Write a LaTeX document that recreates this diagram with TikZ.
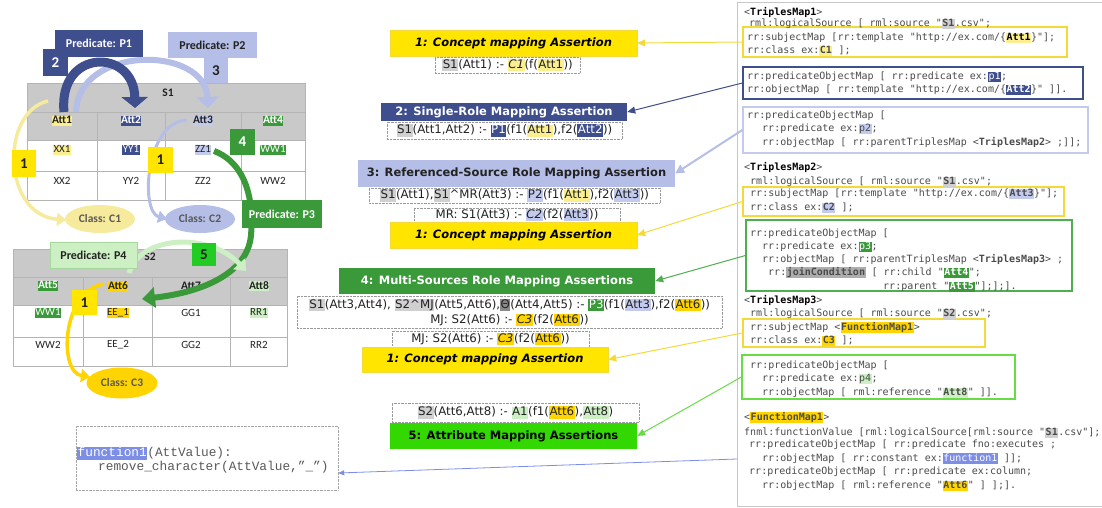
\documentclass[tikz,border=0pt]{standalone}
\usepackage{fontspec}
\setmainfont{Carlito}
\newfontfamily\fml{DejaVu Sans}
\newfontfamily\cf{DejaVu Sans Mono}
\newfontfamily\crr{Liberation Mono}
\usetikzlibrary{arrows.meta,fit,shapes.geometric}

\definecolor{dblue}{HTML}{3F4E8C}
\definecolor{lav}{HTML}{B4BEE6}
\definecolor{lavhl}{HTML}{C2CAEE}
\definecolor{lavline}{HTML}{C3CAEC}
\definecolor{ylw}{HTML}{FFE500}
\definecolor{ylwline}{HTML}{F2DA3A}
\definecolor{lylw}{HTML}{FAEE8E}
\definecolor{cone}{HTML}{F6EA9C}
\definecolor{gold}{HTML}{FFD400}
\definecolor{grn}{HTML}{3A9A3A}
\definecolor{grnline}{HTML}{4FAE4F}
\definecolor{bgrn}{HTML}{33D800}
\definecolor{five}{HTML}{22CC22}
\definecolor{lgrn}{HTML}{CDEFC4}
\definecolor{lgborder}{HTML}{A6D89E}
\definecolor{lgline}{HTML}{66DD44}
\definecolor{tgray}{HTML}{C9C9C9}
\definecolor{tline}{HTML}{B4B4B4}
\definecolor{hgray}{HTML}{D0D0D0}
\definecolor{dgray}{HTML}{8A8A8A}
\definecolor{fnblue}{HTML}{7C8EE6}
\definecolor{codegray}{HTML}{4A4A4A}
\definecolor{ink}{HTML}{222222}

\newcommand\hl[2]{{\setlength{\fboxsep}{0.5pt}\colorbox{#1}{\vphantom{Ay}#2}}}
\newcommand\hlw[2]{\hl{#1}{\color{white}#2}}

\tikzset{
  tab/.style={inner sep=0pt, font=\fontsize{11}{12}\selectfont, text=ink},
  tabb/.style={inner sep=0pt, font=\fontsize{11.5}{12}\selectfont\bfseries, text=ink},
  tag/.style={inner sep=0pt, font=\fontsize{12}{13}\selectfont\bfseries},
  num/.style={inner sep=0pt, font=\fontsize{15}{16}\selectfont\bfseries},
  cls/.style={ellipse, inner sep=0pt, font=\fontsize{11.5}{12}\selectfont\bfseries, text=black!65},
  title/.style={inner sep=0pt, font=\fml\fontsize{11.5}{14}\selectfont\bfseries},
  fbox/.style={inner sep=0pt, draw=black!40, densely dotted, font=\fml\fontsize{11.8}{13}\selectfont, text=ink},
  ftext/.style={inner sep=0pt, font=\fml\fontsize{11.8}{13}\selectfont, text=ink},
  cl/.style={anchor=base west, inner sep=0pt, font=\cf\fontsize{10}{12}\selectfont, text=codegray},
  cbox/.style={inner sep=0pt, line width=1.3pt},
  con/.style={line width=1pt, -{Triangle[width=7pt,length=8pt]}},
  tline/.style={draw=tline, line width=0.6pt},
  sz/.style 2 args={minimum width=#1pt, minimum height=#2pt},
}

\begin{document}
\begin{tikzpicture}[x=1pt,y=-1pt]
\path[use as bounding box] (0,0) rectangle (1102,508);

% ---------------- table S1 ----------------
\fill[tgray] (27,83) rectangle (305,140);
\draw[tline] (27,83) rectangle (305,200);
\draw[tline] (27,112) -- (305,112) (27,140) -- (305,140) (27,171) -- (305,171);
\draw[tline] (97,112) -- (97,200) (165,112) -- (165,200) (241,112) -- (241,200);
\node[tabb] (s1) at (168,93) {S1};
\node[tabb] (a1) at (62,121) {\hl{lylw}{Att1}};
\node[tabb] (a2) at (131,121) {\hl{dblue}{\color{white}Att2}};
\node[tabb] (a3) at (203,121) {\hl{lavhl}{Att3}};
\node[tabb] (a4) at (273,121) {\hl{grn}{\color{white}Att4}};
\node[tab] (x1) at (62,150) {\hl{lylw}{XX1}};
\node[tab] (y1) at (131,150) {\hl{dblue}{\color{white}YY1}};
\node[tab] (z1) at (203,150) {\hl{lavhl}{ZZ1}};
\node[tab] (w1) at (273,150) {\hl{grn}{\color{white}WW1}};
\node[tab] (x2) at (62,181) {XX2};
\node[tab] (y2) at (131,181) {YY2};
\node[tab] (z2) at (203,181) {ZZ2};
\node[tab] (w2) at (273,181) {WW2};

% ---------------- table S2 ----------------
\fill[tgray] (13,249) rectangle (287,305);
\draw[tline] (13,249) rectangle (287,366);
\draw[tline] (13,277) -- (287,277) (13,305) -- (287,305) (13,337) -- (287,337);
\draw[tline] (83,277) -- (83,366) (152,277) -- (152,366) (230,277) -- (230,366);
\node[tabb] (s2) at (150,257) {S2};
\node[tabb] (a5) at (48,286) {\hl{grn}{\color{white}Att5}};
\node[tabb] (a6) at (118,286) {\hl{gold}{Att6}};
\node[tabb] (a7) at (191,286) {Att7};
\node[tabb] (a8) at (259,286) {\hl{lgrn}{Att8}};
\node[tab] (v1) at (48,313) {\hl{grn}{\color{white}WW1}};
\node[tab] (e1) at (118,313) {\hl{gold}{EE\_1}};
\node[tab] (g1) at (191,313) {GG1};
\node[tab] (r1) at (259,313) {\hl{lgrn}{RR1}};
\node[tab] (v2) at (48,345) {WW2};
\node[tab] (e2) at (118,345) {EE\_2};
\node[tab] (g2) at (191,345) {GG2};
\node[tab] (r2) at (259,345) {RR2};

% ---------------- arcs over the tables ----------------
\draw[line width=3.5pt, cone, -{Triangle[width=13pt,length=9pt]}]
  (48,101) .. controls (0,112) and (2,215) .. (66,220);
\draw[line width=3pt, lav, -{Triangle[width=12pt,length=9pt]}]
  (187,120) .. controls (145,122) and (140,212) .. (167,219);
\draw[line width=3.5pt, gold, -{Triangle[width=13pt,length=9pt]}]
  (104,284) .. controls (62,290) and (58,372) .. (90,377);
\draw[line width=6pt, lav, -{Triangle[width=22pt,length=11pt]}]
  (76,112) .. controls (78,45) and (205,45) .. (208,108);
\draw[line width=9pt, dblue, -{Triangle[width=26pt,length=11pt]}]
  (64,112) .. controls (58,48) and (134,48) .. (135,108);
\draw[line width=6pt, grn, -{Triangle[width=20pt,length=13pt]}]
  (214,151) .. controls (246,163) and (254,200) .. (251,235)
  .. controls (248,272) and (205,292) .. (142,299);
\draw[line width=5pt, lgrn, -{Triangle[width=16pt,length=10pt]}]
  (129,273) .. controls (140,235) and (210,232) .. (246,271);

% ---------------- labels on the tables ----------------
\node[tag, fill=dblue, text=white, sz={88}{27}] (p1) at (99,43.5) {Predicate: P1};
\node[num, fill=dblue, text=white, sz={25}{27}] (n2) at (55.5,62.5) {2};
\node[tag, fill=lav, text=ink, sz={89}{26}] (p2) at (212.5,45) {Predicate: P2};
\node[num, fill=lav, text=ink, sz={24}{25}] (n3) at (216,70.5) {3};
\node[num, fill=ylw, text=ink, sz={24}{27}] (n1a) at (24,163.5) {1};
\node[num, fill=ylw, text=ink, sz={25}{26}] (n1b) at (160.5,160) {1};
\node[num, fill=grn, text=white, sz={25}{26}] (n4) at (242.5,142) {4};
\node[tag, fill=grn, text=white, sz={80}{28}] (p3) at (282,214) {Predicate: P3};
\node[tag, fill=lgrn, draw=lgborder, text=ink, sz={87}{26}] (p4) at (93.5,255) {Predicate: P4};
\node[num, fill=five, text=ink, sz={24}{23}] (n5) at (204,254.5) {5};
\node[num, fill=ylw, text=ink, sz={25}{25}] (n1c) at (84.5,302.5) {1};
\node[cls, fill=cone, sz={70}{28}] (c1) at (100,219) {Class: C1};
\node[cls, fill=lav, sz={70}{28}] (c2) at (200,219) {Class: C2};
\node[cls, fill=gold, sz={71}{31}] (c3) at (122,383) {Class: C3};

% ---------------- mapping assertions ----------------
\node[title, fill=ylw, draw=ylwline, sz={247}{26}] (t1) at (513.5,43) {\itshape 1: Concept mapping Assertion};
\node[fbox, sz={145}{16}] (f1) at (507.5,65) {\hl{hgray}{S1}(Att1) :- \hl{lylw}{\itshape C1}(f(\hl{lylw}{Att1}))};
\node[title, fill=dblue, text=white, sz={246}{18}] (t2) at (504,112) {2: Single-Role Mapping Assertion};
\node[fbox, sz={235}{17}] (f2) at (504.5,130.5) {\hl{hgray}{S1}(Att1,Att2) :- \hlw{dblue}{P1}(f1(\hl{lylw}{Att1}),f2(\hlw{dblue}{Att2}))};
\node[title, fill=lav, text=ink, sz={317}{27}] (t3) at (516.5,173.5) {3: Referenced-Source Role Mapping Assertion};
\node[fbox, sz={291}{15}] (f3a) at (514.5,195.5) {\hl{hgray}{S1}(Att1),\hl{hgray}{S1}\textasciicircum MR(Att3) :- \hl{lavhl}{P2}(f1(\hl{lylw}{Att1}),f2(\hl{lavhl}{Att3}))};
\node[fbox, sz={206}{14}] (f3b) at (517,215) {MR: S1(Att3) :- \hl{lavhl}{\itshape C2}(f2(\hl{lavhl}{Att3}))};
\node[title, fill=ylw, draw=ylwline, sz={247}{26}] (t1b) at (513.5,235) {\itshape 1: Concept mapping Assertion};
\node[title, fill=grn, text=white, sz={316}{26}] (t4) at (497,281) {4: Multi-Sources Role Mapping Assertions};
\node[fbox, sz={425}{32}] (f4) at (509.5,312) {};
\node[ftext] (f4a) at (509.5,305) {\hl{hgray}{S1}(Att3,Att4), \hl{hgray}{S2\textasciicircum MJ}(Att5,Att6),\hl{dgray}{Θ}(Att4,Att5) :- \hlw{grn}{P3}(f1(\hl{lavhl}{Att3}),f2(\hl{gold}{Att6}))};
\node[ftext] (f4b) at (509.5,320) {MJ: S2(Att6) :- \hl{gold}{\itshape C3}(f2(\hl{gold}{Att6}))};
\node[fbox, sz={197}{16}] (f4m) at (490.5,339) {MJ: S2(Att6) :- \hl{gold}{\itshape C3}(f2(\hl{gold}{Att6}))};
\node[title, fill=ylw, draw=ylwline, sz={246}{25}] (t1c) at (485,359.5) {\itshape 1: Concept mapping Assertion};
\node[fbox, sz={247}{19}] (f5) at (515.5,412.5) {\hl{hgray}{S2}(Att6,Att8) :- \hl{lgrn}{A1}(f1(\hl{gold}{Att6}),\hl{lgrn}{Att8})};
\node[title, fill=bgrn, text=black, sz={247}{26}] (t5) at (513.5,436) {5: Attribute Mapping Assertions};

% ---------------- function definition ----------------
\node[inner sep=0pt, draw=black!35, densely dotted, fit={(76,426)(338,490)}] (fbox) {};
\node[anchor=base west, inner sep=0pt, font=\crr\fontsize{12.8}{14}\selectfont, text=black!65] (fn1) at (77,456.5) {\hlw{fnblue}{function1}(AttValue):};
\node[anchor=base west, inner sep=0pt, font=\crr\fontsize{12.8}{14}\selectfont, text=black!65] (fn2) at (98,470.5) {remove\_character(AttValue,”\_”)};

% ---------------- RML listing ----------------
\draw[black!22, line width=0.8pt] (737,2) rectangle (1106,506);
\node[cbox, draw=ylwline, fit={(743,27)(1067,57)}] (cy1) {};
\node[cbox, draw=dblue, fit={(743,67)(1083,99)}] (cdb) {};
\node[cbox, draw=lavline, fit={(743,107)(1088,153)}] (clv) {};
\node[cbox, draw=ylwline, fit={(743,187)(1064,216)}] (cy2) {};
\node[cbox, draw=grnline, fit={(746,220)(1072,291)}] (cgr) {};
\node[cbox, draw=ylwline, fit={(743,319)(985,347)}] (cy3) {};
\node[cbox, draw=lgline, fit={(742,355)(1015,399)}] (clg) {};

\node[cl] (k1) at (744,15.5) {<\textbf{\color{black}TriplesMap1}>};
\node[cl] (k2) at (749,26.5) {rml:logicalSource [ rml:source "\hl{hgray}{\textbf{S1}}.csv";};
\node[cl] (k3) at (747,40.5) {rr:subjectMap [rr:template "http://ex.com/\{\hl{lylw}{\textbf{\color{black}Att1}}\}"];};
\node[cl] (k4) at (747,53.5) {rr:class ex:\hl{lylw}{\textbf{C1}} ];};
\node[cl] (k5) at (747,79.5) {rr:predicateObjectMap [ rr:predicate ex:\hlw{dblue}{p1};};
\node[cl] (k6) at (747,92.5) {rr:objectMap [ rr:template "http://ex.com/\{\hlw{dblue}{\textbf{Att2}}\}" ]].};
\node[cl] (k7) at (747,118.5) {rr:predicateObjectMap [};
\node[cl] (k8) at (762,131.5) {rr:predicate ex:\hl{lavhl}{p2};};
\node[cl] (k9) at (762,145.5) {rr:objectMap [ rr:parentTriplesMap <\textbf{TriplesMap2}> ;]];};
\node[cl] (k10) at (744,170.5) {<\textbf{\color{black}TriplesMap2}>};
\node[cl] (k11) at (750,184.5) {rml:logicalSource [ rml:source "\hl{hgray}{\textbf{S1}}.csv";};
\node[cl] (k12) at (750,196.5) {rr:subjectMap [rr:template "http://ex.com/\{\hl{lavhl}{\textbf{Att3}}\}"];};
\node[cl] (k13) at (750,210.5) {rr:class ex:\hl{lavhl}{\textbf{C2}} ];};
\node[cl] (k14) at (750,236.5) {rr:predicateObjectMap [};
\node[cl] (k15) at (762,249.5) {rr:predicate ex:\hlw{grn}{p3};};
\node[cl] (k16) at (762,262.5) {rr:objectMap [ rr:parentTriplesMap <\textbf{TriplesMap3}> ;};
\node[cl] (k17) at (768,275.5) {rr:\hl{dgray!70}{\textbf{joinCondition}} [ rr:child "\hlw{grn}{\textbf{Att4}}";};
\node[cl] (k18) at (883,289.5) {rr:parent "\hlw{grn}{\textbf{Att5}}"];];].};
\node[cl] (k19) at (744,303.5) {<\textbf{\color{black}TriplesMap3}>};
\node[cl] (k20) at (750,316.5) {rml:logicalSource [ rml:source "\hl{hgray}{\textbf{S2}}.csv";};
\node[cl] (k21) at (750,330.5) {rr:subjectMap <\hl{gold}{\textbf{FunctionMap1}}>};
\node[cl] (k22) at (750,343.5) {rr:class ex:\hl{gold}{\textbf{C3}} ];};
\node[cl] (k23) at (750,368.5) {rr:predicateObjectMap [};
\node[cl] (k24) at (762,381.5) {rr:predicate ex:\hl{lgrn}{p4};};
\node[cl] (k25) at (762,395.5) {rr:objectMap [ rml:reference "\hl{lgrn}{\textbf{Att8}}" ]].};
\node[cl] (k26) at (744,420.5) {<\hl{gold}{\textbf{FunctionMap1}}>};
\node[cl] (k27) at (744,435.5) {fnml:functionValue [rml:logicalSource[rml:source "\hl{hgray}{\textbf{S1}}.csv"];};
\node[cl] (k28) at (749,447.5) {rr:predicateObjectMap [ rr:predicate fno:executes ;};
\node[cl] (k29) at (762,461.5) {rr:objectMap [ rr:constant ex:\hlw{fnblue}{function1} ]];};
\node[cl] (k30) at (749,474.5) {rr:predicateObjectMap [ rr:predicate ex:column;};
\node[cl] (k31) at (762,488.5) {rr:objectMap [ rml:reference "\hl{gold}{\textbf{Att6}}" ] ];].};

% ---------------- connectors from the listing ----------------
\coordinate (fnend) at (737,459);
\draw[con, ylwline] (cy1.west) -- (t1.east);
\draw[con, dblue] (cdb.west) -- (t2.east);
\draw[con, lav, line width=2pt, -{Triangle[width=9pt,length=9pt]}] (clv.west) -- (t3.east);
\draw[con, ylwline] (cy2.west) -- (t1b.east);
\draw[con, grnline] (cgr.west) -- (t4.east);
\draw[con, ylwline] (cy3.west) -- (t1c.east);
\draw[con, lgline] (clg.west) -- (t5.east);
\draw[fnblue, line width=0.8pt, -{Triangle[width=5pt,length=6pt]}] (fnend) -- ([yshift=-15pt]fbox.east);
\end{tikzpicture}
\end{document}
